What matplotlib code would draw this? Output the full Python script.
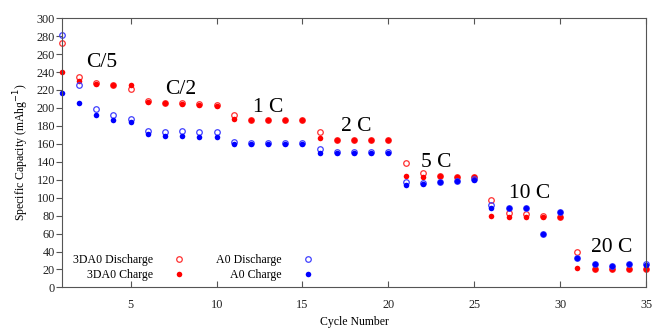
import numpy as np
import matplotlib.pyplot as plt

plt.rcParams['font.family'] = ['Liberation Serif', 'DejaVu Serif']

# numero de ciclos
ciclo = np.arange(1, 36)

# 3DA0 descarga / carga
d3_descarga = [272, 234, 228, 225, 221, 208, 206, 205, 204, 203,
               192, 187, 187, 187, 186, 173, 164, 164, 164, 164,
               139, 127, 124, 123, 123, 97, 83, 82, 80, 78,
               39, 21, 20, 20, 20]
d3_carga = [240, 230, 227, 225, 225, 207, 205, 204, 203, 202,
            188, 187, 187, 187, 186, 166, 164, 164, 164, 164,
            124, 123, 124, 123, 123, 80, 79, 79, 78, 78,
            22, 21, 20, 20, 20]

# A0 descarga / carga
a0_descarga = [281, 225, 199, 192, 188, 174, 173, 174, 173, 173,
               162, 161, 161, 161, 161, 154, 151, 151, 151, 151,
               117, 116, 118, 119, 121, 92, 89, 89, 59, 84,
               33, 26, 24, 26, 26]
a0_carga = [217, 205, 192, 187, 184, 171, 169, 169, 168, 168,
            160, 160, 160, 160, 160, 150, 150, 150, 150, 150,
            114, 115, 117, 119, 120, 88, 89, 89, 59, 84,
            33, 26, 24, 26, 25]

# rotulos das taxas
taxas = ['C/5', 'C/2', '1 C', '2 C', '5 C', '10 C', '20 C']
taxa_x = [3.3, 7.9, 13.0, 18.1, 22.8, 28.2, 33.0]
taxa_y = [251, 220, 201, 179, 139, 105, 45]

fig = plt.figure(figsize=(6.52, 3.3), dpi=100)
ax = fig.add_axes([0.095, 0.129, 0.896, 0.816])

ms = 4.0
ax.plot(ciclo, d3_descarga, 'o', ms=ms, mfc='none', mec='#ff3030', mew=0.9,
        label='3DA0 Discharge', clip_on=False)
ax.plot(ciclo, d3_carga, 'o', ms=ms, color='#ff0000', mew=0,
        label='3DA0 Charge', clip_on=False)
ax.plot(ciclo, a0_descarga, 'o', ms=ms, mfc='none', mec='#4040ff', mew=0.9,
        label='A0 Discharge', clip_on=False)
ax.plot(ciclo, a0_carga, 'o', ms=ms, color='#0000ff', mew=0,
        label='A0 Charge', clip_on=False)

for t, x, y in zip(taxas, taxa_x, taxa_y):
    ax.text(x, y, t, fontsize=15.5, ha='center', va='center')

ax.set_xlim(1, 35)
ax.set_ylim(0, 300)
ax.set_xticks(range(5, 36, 5))
ax.set_yticks(range(0, 301, 20))
ax.tick_params(axis='x', direction='in', top=True, length=4, labelsize=8.8, pad=8)
ax.tick_params(axis='y', direction='out', length=4, labelsize=8.8, pad=1)
for s in ax.spines.values():
    s.set_color('#555555')
ax.tick_params(colors='#555555', labelcolor='#222222')

ax.set_xlabel('Cycle Number', fontsize=8.5, labelpad=4)
ax.set_ylabel('Specific Capacity (mAhg$^{-1}$)', fontsize=8.5, labelpad=4)

ax.legend(loc='lower left', bbox_to_anchor=(0.0, -0.015), ncol=2, frameon=False,
          markerfirst=False, fontsize=8.6, handlelength=1.0, handletextpad=1.7,
          columnspacing=2.6, labelspacing=0.2, alignment='right')

fig.savefig('out.png', dpi=100)
